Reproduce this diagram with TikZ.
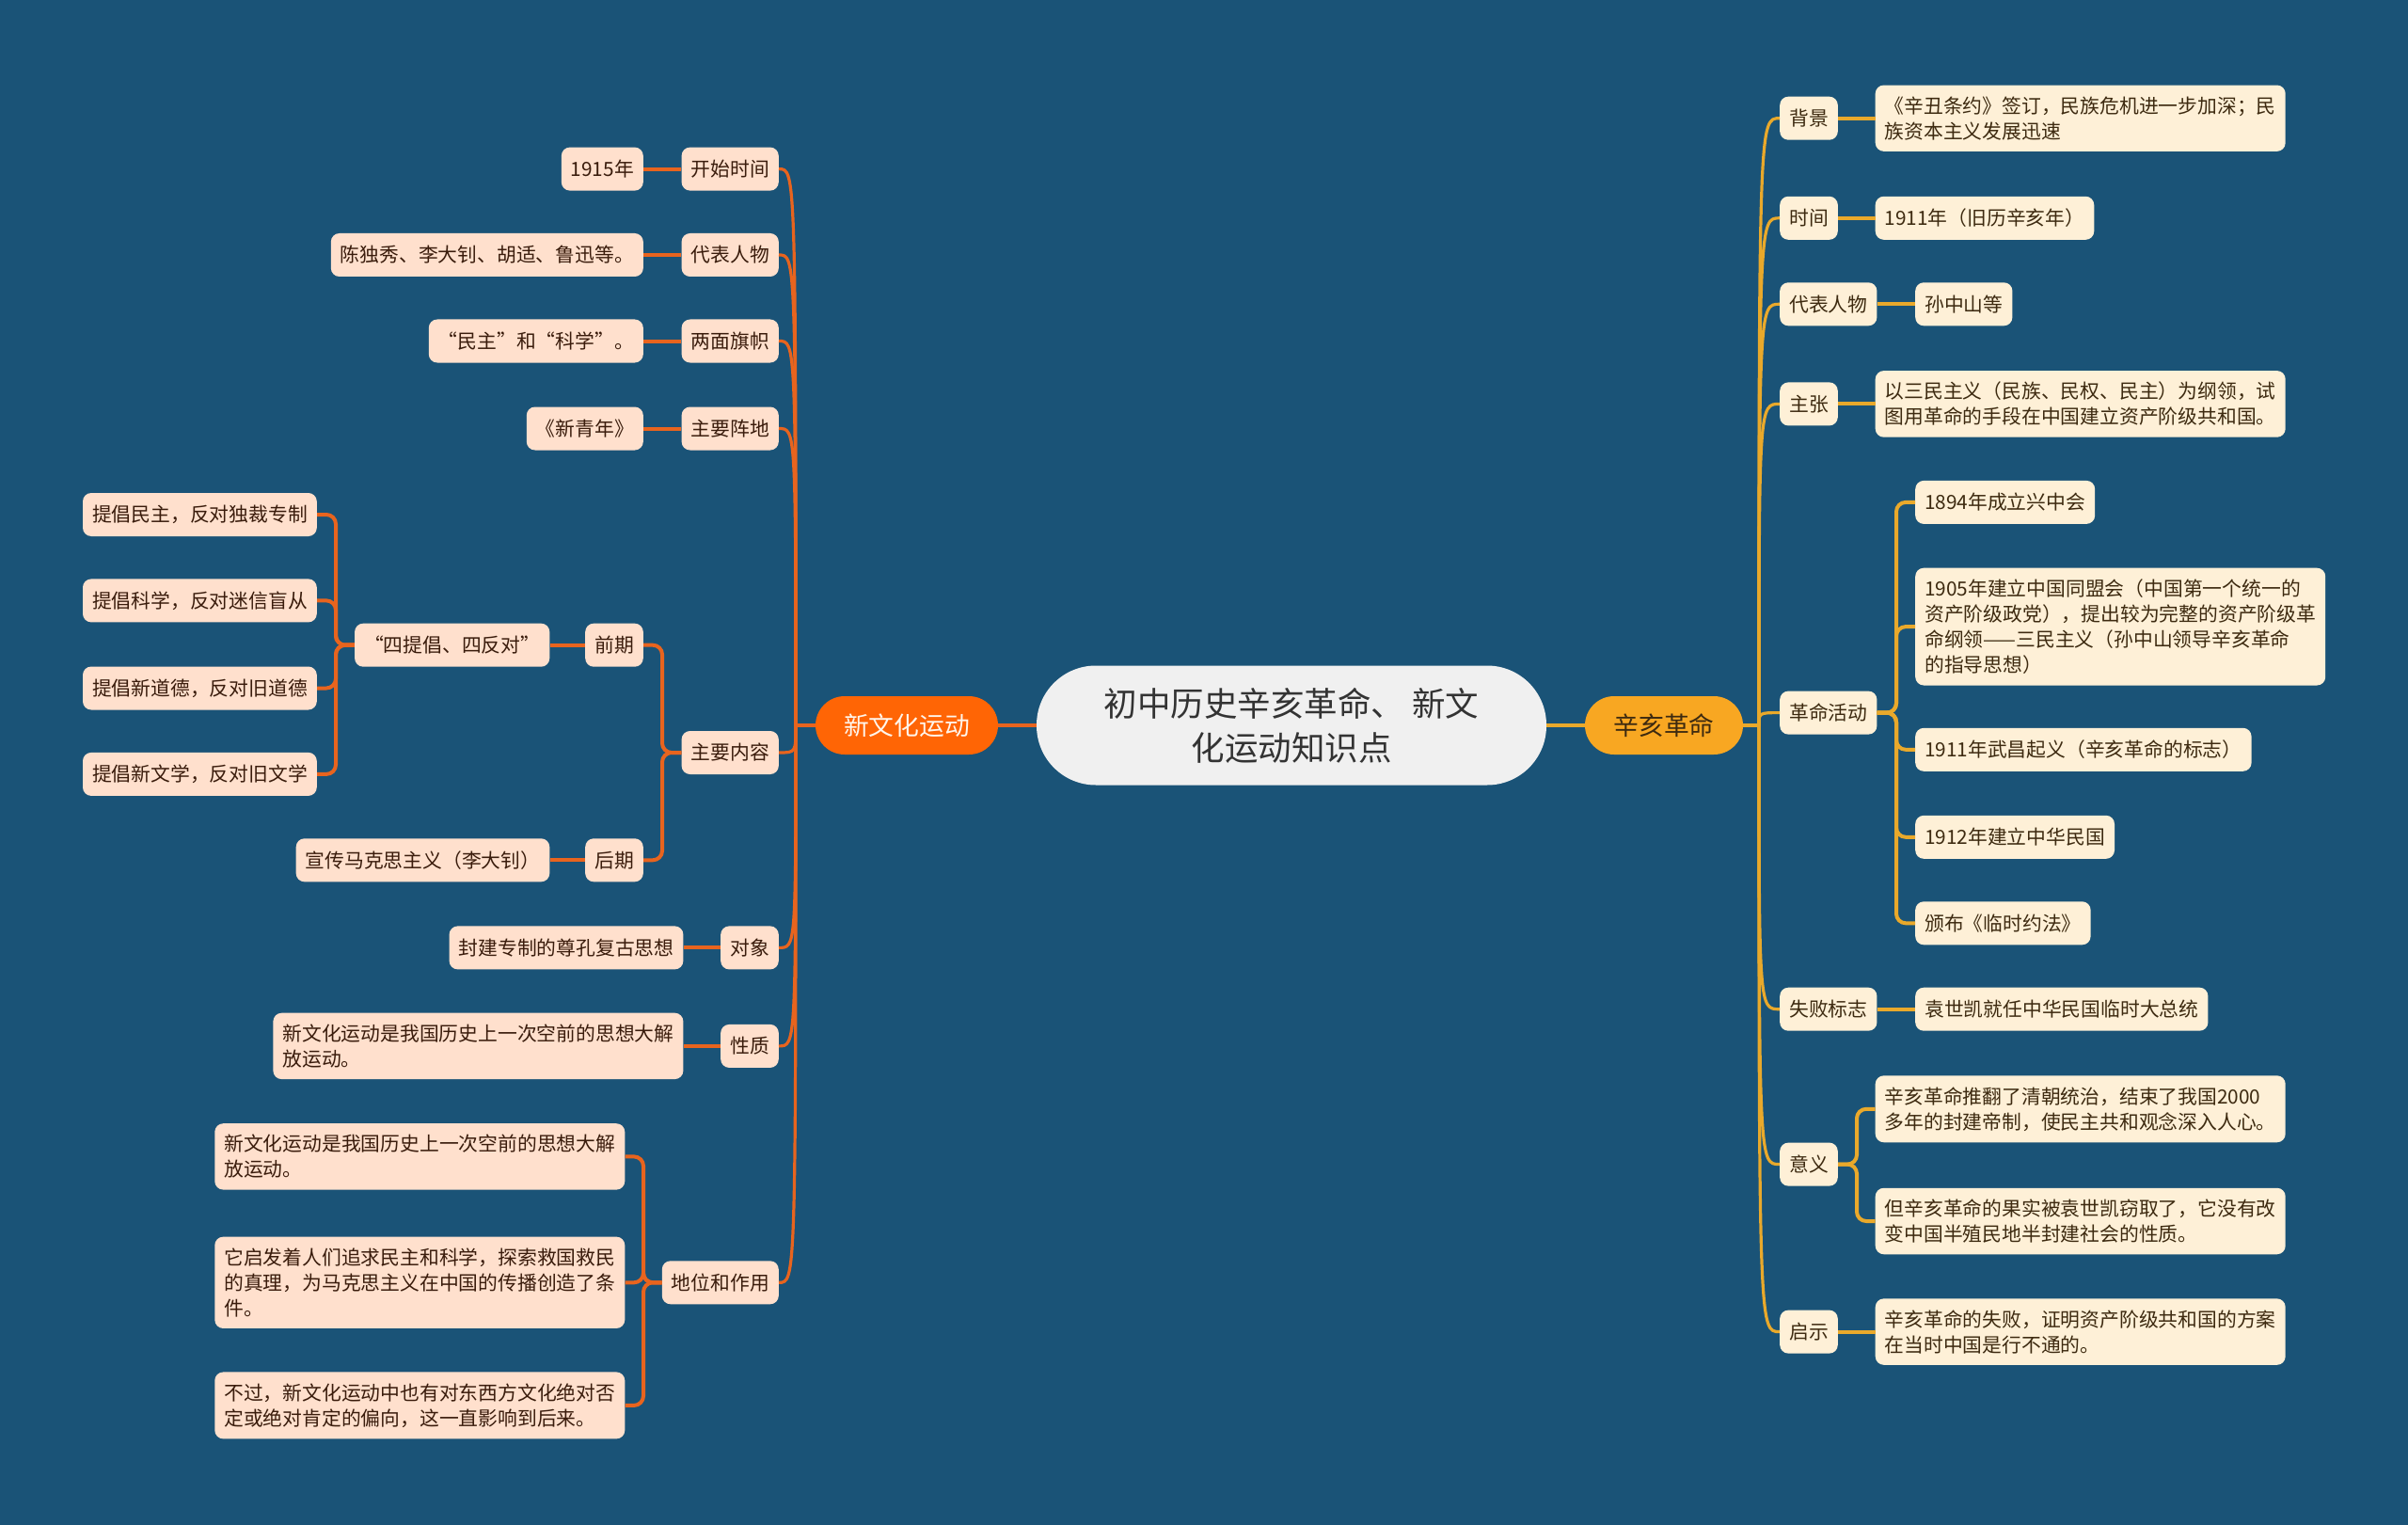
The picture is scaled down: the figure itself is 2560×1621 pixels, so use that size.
\documentclass[tikz,border=0pt]{standalone}
\usepackage{fontspec}
\newfontfamily\cjk{Noto Sans CJK SC}
\usetikzlibrary{calc}
\definecolor{bgc}{HTML}{1A5377}
\definecolor{peach}{HTML}{FFE0CD}
\definecolor{cream}{HTML}{FEF0D7}
\definecolor{ltxt}{HTML}{3A1C0C}
\definecolor{rtxt}{HTML}{3D2A10}
\definecolor{lline}{HTML}{E8641E}
\definecolor{rline}{HTML}{E9A92B}
\definecolor{lmain}{HTML}{FF6505}
\definecolor{rmain}{HTML}{F8A722}
\definecolor{rootc}{HTML}{F0F0F0}
\newcommand\leaffont{\cjk\fontsize{20.8}{27}\selectfont}
\begin{document}
\begin{tikzpicture}[x=1pt,y=-1pt,
  box/.style={rectangle, rounded corners=9pt, font=\leaffont, inner xsep=10pt, inner ysep=12pt, minimum height=46pt, align=left},
  lbox/.style={box, fill=peach, text=ltxt, anchor=east},
  rbox/.style={box, fill=cream, text=rtxt, anchor=west},
  wide/.style={text width=416pt},
  lcurve/.style={draw=lline, line width=3.2pt},
  rcurve/.style={draw=rline, line width=3.2pt},
  lseg/.style={draw=lline, line width=4pt, rounded corners=10pt},
  rseg/.style={draw=rline, line width=4pt, rounded corners=10pt}]
\fill[bgc] (0,0) rectangle (2560,1621);
\useasboundingbox (0,0) rectangle (2560,1621);

% root and main branches
\node[fill=rootc, text=black!80, rounded corners=63pt, minimum width=542pt, minimum height=127pt, align=center, font=\cjk\fontsize{35.5}{47}\selectfont] (root) at (1373,771) {初中历史辛亥革命、 新文\\化运动知识点};
\node[fill=lmain, text=white!92!orange, rounded corners=31pt, minimum width=194pt, minimum height=62pt, font=\cjk\fontsize{26.8}{32}\selectfont] (L) at (964,771) {新文化运动};
\node[fill=rmain, text=rtxt, rounded corners=31pt, minimum width=168pt, minimum height=62pt, font=\cjk\fontsize{26.8}{32}\selectfont] (R) at (1769,771) {辛亥革命};
\coordinate (JL) at (846,771);
\coordinate (JR) at (1870,771);
\coordinate (ka) at (704,800);
\coordinate (kb) at (684,1363.3);
\coordinate (kc) at (357,685.7);
\coordinate (kd) at (2016,757.6);
\coordinate (ke) at (1974,1237.6);
\draw[lcurve] (root.west) -- (L.east);
\draw[rcurve] (root.east) -- (R.west);
\draw[lcurve] (L.west) -- (JL);
\draw[rcurve] (R.east) -- (JR);

% left level 2
\node[lbox] (a1) at (828,179.6) {开始时间};
\node[lbox] (a2) at (828,271) {代表人物};
\node[lbox] (a3) at (828,362.5) {两面旗帜};
\node[lbox] (a4) at (828,455.5) {主要阵地};
\node[lbox] (a5) at (828,800) {主要内容};
\node[lbox] (a6) at (828,1007.4) {对象};
\node[lbox] (a7) at (828,1111.9) {性质};
\node[lbox] (a8) at (828,1363.3) {地位和作用};
\foreach \n in {a1,a2,a3,a4,a5,a6,a7,a8}
  \draw[lcurve] (JL) .. controls (JL |- \n.east) .. (\n.east);

% left level 3
\node[lbox] (b1) at (684,179.6) {1915年};
\node[lbox] (b2) at (684,271) {陈独秀、李大钊、胡适、鲁迅等。};
\node[lbox] (b3) at (684,362.5) {“民主”和“科学”。};
\node[lbox] (b4) at (684,455.5) {《新青年》};
\node[lbox] (b5) at (684,685.7) {前期};
\node[lbox] (b6) at (684,914.3) {后期};
\node[lbox] (b7) at (726.6,1007.4) {封建专制的尊孔复古思想};
\node[lbox, wide] (b8) at (726.6,1111.9) {新文化运动是我国历史上一次空前的思想大解\\放运动。};
\node[lbox, wide] (b9) at (664.5,1229.4) {新文化运动是我国历史上一次空前的思想大解\\放运动。};
\node[lbox, wide] (b10) at (664.5,1363.3) {它启发着人们追求民主和科学，探索救国救民\\的真理，为马克思主义在中国的传播创造了条\\件。};
\node[lbox, wide] (b11) at (664.5,1493.9) {不过，新文化运动中也有对东西方文化绝对否\\定或绝对肯定的偏向，这一直影响到后来。};
\draw[lseg] (a1.west) -- (b1.east);
\draw[lseg] (a2.west) -- (b2.east);
\draw[lseg] (a3.west) -- (b3.east);
\draw[lseg] (a4.west) -- (b4.east);
\draw[lseg] (a6.west) -- (b7.east);
\draw[lseg] (a7.west) -- (b8.east);
\foreach \n in {b5,b6}
  \draw[lseg] (a5.west) -- (ka) -- (ka |- \n.east) -- (\n.east);
\foreach \n in {b9,b10,b11}
  \draw[lseg] (a8.west) -- (kb) -- (kb |- \n.east) -- (\n.east);

% left level 4 and 5
\node[lbox] (c1) at (584.5,685.7) {“四提倡、四反对”};
\node[lbox] (c2) at (584.5,914.3) {宣传马克思主义（李大钊）};
\draw[lseg] (b5.west) -- (c1.east);
\draw[lseg] (b6.west) -- (c2.east);
\node[lbox] (d1) at (337,547) {提倡民主，反对独裁专制};
\node[lbox] (d2) at (337,638.4) {提倡科学，反对迷信盲从};
\node[lbox] (d3) at (337,731.5) {提倡新道德，反对旧道德};
\node[lbox] (d4) at (337,822.9) {提倡新文学，反对旧文学};
\foreach \n in {d1,d2,d3,d4}
  \draw[lseg] (c1.west) -- (kc) -- (kc |- \n.east) -- (\n.east);

% right level 2
\node[rbox] (r1) at (1892,125.7) {背景};
\node[rbox] (r2) at (1892,231.8) {时间};
\node[rbox] (r3) at (1892,323.3) {代表人物};
\node[rbox] (r4) at (1892,429.4) {主张};
\node[rbox] (r5) at (1892,757.6) {革命活动};
\node[rbox] (r6) at (1892,1072.7) {失败标志};
\node[rbox] (r7) at (1892,1237.6) {意义};
\node[rbox] (r8) at (1892,1415.6) {启示};
\foreach \n in {r1,r2,r3,r4,r5,r6,r7,r8}
  \draw[rcurve] (JR) .. controls (JR |- \n.west) .. (\n.west);

% right level 3
\node[rbox, wide] (s1) at (1993.5,125.7) {《辛丑条约》签订，民族危机进一步加深；民\\族资本主义发展迅速};
\node[rbox] (s2) at (1993.5,231.8) {1911年（旧历辛亥年）};
\node[rbox] (s3) at (2036,323.3) {孙中山等};
\node[rbox, wide] (s4) at (1993.5,429.4) {以三民主义（民族、民权、民主）为纲领，试\\图用革命的手段在中国建立资产阶级共和国。};
\node[rbox] (s5) at (2036,533.9) {1894年成立兴中会};
\node[rbox, wide] (s6) at (2036,666.1) {1905年建立中国同盟会（中国第一个统一的\\资产阶级政党），提出较为完整的资产阶级革\\命纲领——三民主义（孙中山领导辛亥革命\\的指导思想）};
\node[rbox] (s7) at (2036,796.8) {1911年武昌起义（辛亥革命的标志）};
\node[rbox] (s8) at (2036,889.8) {1912年建立中华民国};
\node[rbox] (s9) at (2036,981.3) {颁布《临时约法》};
\node[rbox] (s10) at (2036,1072.7) {袁世凯就任中华民国临时大总统};
\node[rbox, wide] (s11) at (1993.5,1178.8) {辛亥革命推翻了清朝统治，结束了我国2000\\多年的封建帝制，使民主共和观念深入人心。};
\node[rbox, wide] (s12) at (1993.5,1298) {但辛亥革命的果实被袁世凯窃取了，它没有改\\变中国半殖民地半封建社会的性质。};
\node[rbox, wide] (s13) at (1993.5,1415.6) {辛亥革命的失败，证明资产阶级共和国的方案\\在当时中国是行不通的。};
\draw[rseg] (r1.east) -- (s1.west);
\draw[rseg] (r2.east) -- (s2.west);
\draw[rseg] (r3.east) -- (s3.west);
\draw[rseg] (r4.east) -- (s4.west);
\draw[rseg] (r6.east) -- (s10.west);
\draw[rseg] (r8.east) -- (s13.west);
\foreach \n in {s5,s6,s7,s8,s9}
  \draw[rseg] (r5.east) -- (kd) -- (kd |- \n.west) -- (\n.west);
\foreach \n in {s11,s12}
  \draw[rseg] (r7.east) -- (ke) -- (ke |- \n.west) -- (\n.west);
\end{tikzpicture}
\end{document}
